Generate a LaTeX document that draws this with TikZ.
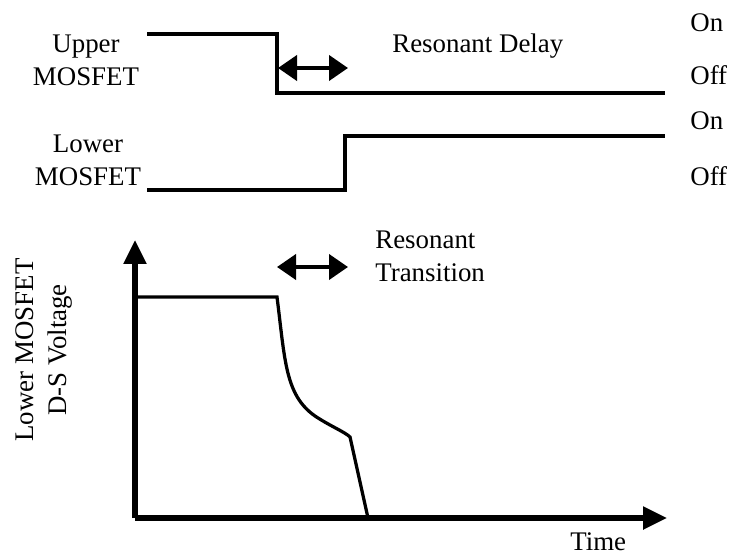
\documentclass[tikz,border=0pt]{standalone}
\usepackage{fontspec}
\setmainfont{Liberation Serif}
\usetikzlibrary{arrows.meta, positioning}

\begin{document}
\begin{tikzpicture}[
        x=0.02cm, y=-0.02cm,
        % Style for all labels
        lbl/.style={inner sep=0pt, font=\fontsize{15.3pt}{18.6pt}\selectfont},
        % Gate waveforms and D-S voltage trace
        wave/.style={line width=0.065cm, line join=miter},
        % Axes of the voltage plot
        axis/.style={line width=0.11cm, -{Triangle[length=0.48cm, width=0.44cm]}},
        % Double headed interval markers
        span/.style={line width=0.08cm,
            {Triangle[length=0.38cm, width=0.5cm]}-{Triangle[length=0.38cm, width=0.5cm]}}
    ]
        \useasboundingbox (0,0) rectangle (742,557);

        % 1. Gate signals
        \node[lbl, align=center] (upper) at (86,60) {Upper\\MOSFET};
        \node[lbl, align=center] (lower) at (88,160) {Lower\\MOSFET};
        \draw[wave] (147,34) -- (277,34) -- (277,93) -- (665,93);
        \draw[wave] (147,190) -- (345,190) -- (345,136) -- (665,136);

        % 2. On / Off levels
        \node[lbl, anchor=base west] (on1)  at (690,32)  {On};
        \node[lbl, anchor=base west] (off1) at (690,85)  {Off};
        \node[lbl, anchor=base west] (on2)  at (690,130) {On};
        \node[lbl, anchor=base west] (off2) at (690,185) {Off};

        % 3. Delay interval
        \coordinate (delayA) at (278,68);
        \coordinate (delayB) at (348,68);
        \draw[span] (delayA) -- (delayB);
        \node[lbl, anchor=base west] (delay) at (392,53) {Resonant Delay};

        % 4. Axes
        \coordinate (origin) at (135,518);
        \coordinate (ytop)   at (135,240);
        \coordinate (xend)   at (667,518);
        \draw[axis] (origin) -- (ytop);
        \draw[axis] (origin) -- (xend);
        \node[lbl, anchor=base west] (time) at (570,550) {Time};
        \node[lbl, align=center, rotate=90] (vds) at (44,350) {Lower MOSFET\\D-S Voltage};

        % 5. Transition interval
        \coordinate (transA) at (277,267);
        \coordinate (transB) at (348,267);
        \draw[span] (transA) -- (transB);
        \node[lbl, align=left, anchor=west] (trans) at (375,256) {Resonant\\Transition};

        % 6. Drain-source voltage
        \draw[wave] (135,297) -- (277,297)
            .. controls (285,360) and (285,395) .. (315,416)
            .. controls (330,426) and (345,432) .. (350,437) -- (368,518);

    \end{tikzpicture}
\end{document}
